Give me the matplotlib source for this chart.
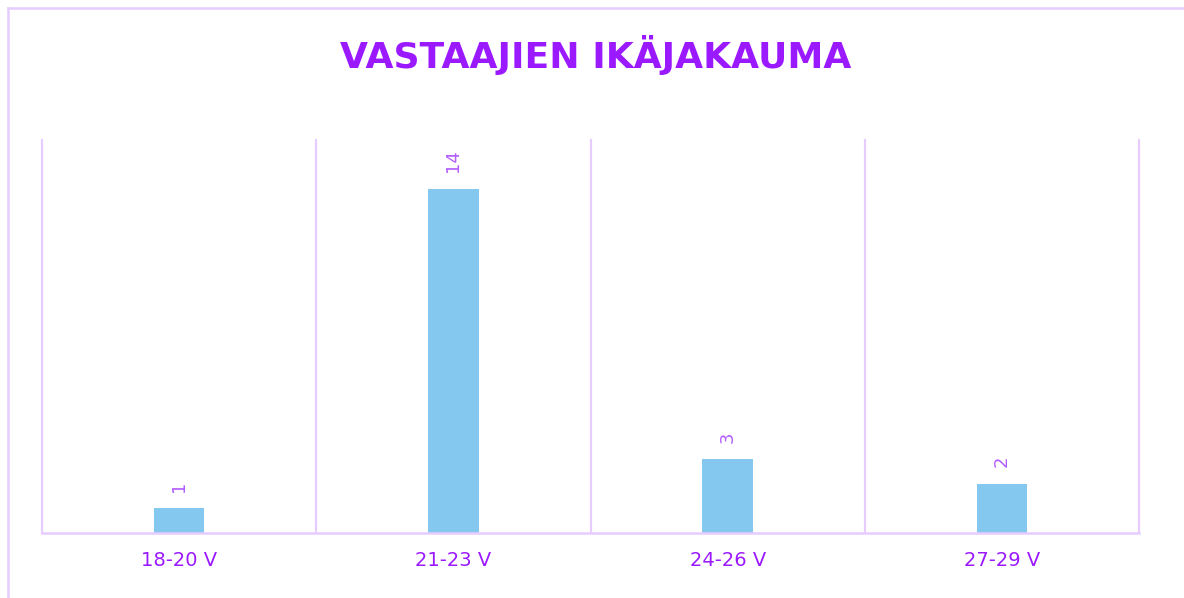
import matplotlib.pyplot as plt
import numpy as np
from matplotlib.lines import Line2D

categories = ['18-20 V', '21-23 V', '24-26 V', '27-29 V']
counts = [1, 14, 3, 2]
title = 'VASTAAJIEN IKÄJAKAUMA'

purple = '#9B19FF'
label_purple = '#B25CFF'
line_col = '#E6CCFF'
bar_col = '#85C8EF'

W, H = 1184, 598
fig = plt.figure(figsize=(W / 100, H / 100), dpi=100)

# plot area in pixels: x 42..1139, y 140..533
ax = fig.add_axes([42 / W, 1 - 533 / H, (1139 - 42) / W, (533 - 140) / H])

x = np.arange(len(categories))
bars = ax.bar(x, counts, width=0.185, color=bar_col, zorder=2)

ax.set_xlim(-0.5, len(categories) - 0.5)
ax.set_ylim(0, 16)

for xi in np.arange(-0.5, len(categories), 1.0):
    ax.axvline(xi, color=line_col, lw=1.6, zorder=1, clip_on=False)

for sp in ['top', 'left', 'right']:
    ax.spines[sp].set_visible(False)
ax.spines['bottom'].set_color(line_col)
ax.spines['bottom'].set_linewidth(1.8)

ax.set_yticks([])
ax.set_xticks(x)
ax.set_xticklabels(categories, color=purple, fontsize=14, family='DejaVu Sans')
ax.tick_params(axis='x', length=0, pad=13)

for bar, v in zip(bars, counts):
    ax.annotate(str(v),
                xy=(bar.get_x() + bar.get_width() / 2, bar.get_height()),
                xytext=(0, 12), textcoords='offset points',
                ha='center', va='bottom', rotation=90,
                color=label_purple, fontsize=13, family='DejaVu Sans')

fig.text(596 / W, 1 - 55 / H, title, ha='center', va='center',
         color=purple, fontsize=26, fontweight='bold', family='DejaVu Sans')

# outer chart border (left and top edges visible)
fig.add_artist(Line2D([7.5 / W, 7.5 / W], [0, 1 - 8 / H], transform=fig.transFigure,
                      color=line_col, lw=1.8))
fig.add_artist(Line2D([7.5 / W, 1], [1 - 8 / H, 1 - 8 / H], transform=fig.transFigure,
                      color=line_col, lw=1.8))

plt.savefig('out.png', dpi=100)
